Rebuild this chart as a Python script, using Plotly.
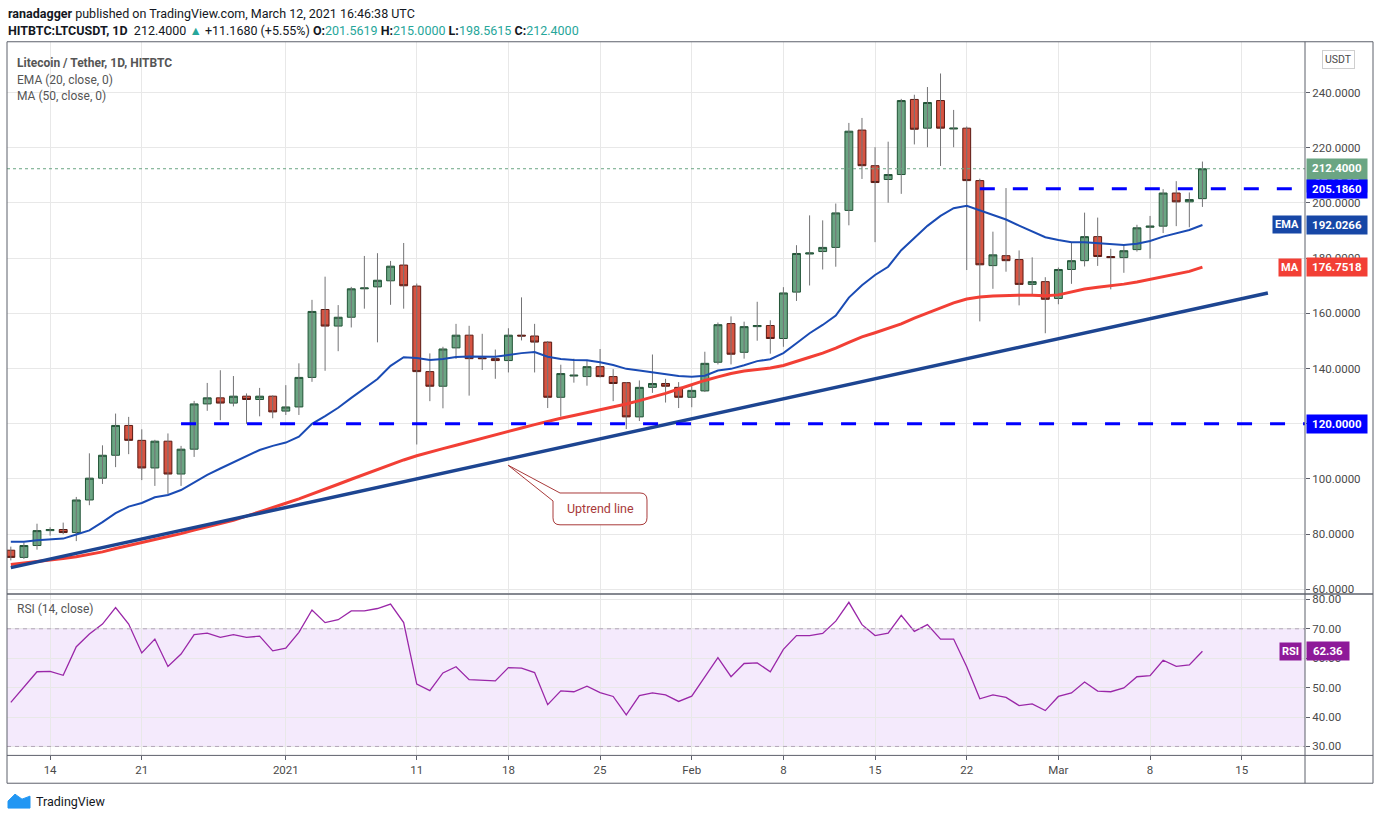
import pandas as pd
import plotly.graph_objects as go

# daily candles, LTC/USDT (HitBTC), Dec 11 2020 -> Mar 12 2021
dates = pd.date_range("2020-12-11", "2021-03-12", freq="D")

opens = [
    74.2, 71.6, 75.9, 81.3, 81.7, 80.6, 92.4, 100.3, 108.6, 119.4, 114.0, 104.0, 113.7, 101.8, 110.8, 127.2, 129.4, 127.5, 130.0, 128.8, 130.0,
    124.6, 126.1, 136.8, 161.4, 155.4, 158.6, 168.9, 169.6, 171.8, 177.5, 169.9, 138.9, 133.6, 147.5, 152.1, 143.9, 143.6, 142.9, 152.1, 151.8,
    149.6, 129.6, 137.3, 137.1, 140.7, 137.1, 134.9, 122.5, 133.2, 134.6, 133.2,
    129.6, 131.9, 142.3, 156.3, 145.9, 155.2, 155.6, 150.9, 167.7, 181.5, 182.4, 183.9, 197.3, 226.4, 213.5, 208.5, 210.3, 237.5, 227.1, 237.1,
    226.8, 227.1, 208.1, 177.3, 180.9, 179.5, 170.5, 171.5,
    165.4, 175.9, 179.1, 187.8, 180.6, 180.2, 183.1, 191.2, 191.6, 203.6, 200.4, 201.5619,
]
highs = [
    75.5, 77.0, 83.8, 82.5, 84.2, 93.5, 109.3, 112.2, 123.7, 122.5, 118.0, 114.2, 116.5, 112.0, 128.3, 134.8, 139.4, 137.3, 131.0, 133.0, 130.3,
    134.0, 141.9, 164.9, 173.3, 163.0, 169.6, 180.8, 181.8, 179.0, 185.5, 170.8, 145.5, 147.9, 156.2, 155.5, 152.6, 146.9, 154.6, 165.8, 156.2,
    150.0, 141.4, 143.6, 142.9, 147.1, 139.8, 135.1, 135.7, 145.1, 136.3, 135.1,
    134.3, 146.1, 156.7, 158.9, 157.0, 164.2, 157.5, 169.5, 184.7, 195.5, 193.7, 199.8, 229.0, 230.8, 220.2, 222.2, 237.7, 239.2, 242.0, 246.9,
    233.7, 227.7, 208.8, 189.6, 205.4, 182.8, 180.3, 173.1,
    176.6, 185.6, 196.5, 194.7, 183.4, 184.9, 192.1, 195.3, 205.0, 207.9, 203.8, 215.0,
]
lows = [
    70.5, 71.0, 74.4, 79.5, 80.0, 77.5, 90.5, 98.2, 104.3, 109.0, 99.6, 97.5, 94.6, 97.5, 108.0, 124.7, 121.3, 126.3, 120.0, 122.7, 122.0,
    123.2, 123.2, 135.2, 139.2, 146.3, 154.9, 161.7, 149.5, 163.1, 161.7, 112.5, 128.2, 125.6, 143.5, 130.2, 139.5, 136.3, 138.6, 150.2, 138.6,
    125.7, 122.6, 134.9, 133.8, 136.8, 128.2, 118.1, 121.0, 131.2, 127.7, 125.7,
    126.0, 131.5, 141.5, 141.5, 143.6, 150.1, 145.4, 147.9, 164.5, 170.1, 175.9, 176.9, 191.9, 208.7, 185.8, 200.1, 203.3, 221.2, 220.2, 213.4,
    220.2, 175.7, 157.1, 168.9, 175.1, 162.9, 166.9, 152.8,
    163.3, 170.7, 177.0, 177.2, 168.7, 174.7, 182.4, 179.8, 189.1, 191.6, 191.2, 198.5615,
]
closes = [
    71.6, 75.9, 81.3, 81.7, 80.6, 92.4, 100.3, 108.6, 119.4, 114.0, 104.0, 113.7, 101.8, 110.8, 127.2, 129.4, 127.5, 130.0, 128.8, 130.0, 124.3,
    126.1, 136.8, 160.7, 155.4, 158.6, 168.9, 169.2, 172.0, 177.1, 170.0, 138.9, 133.6, 147.1, 152.1, 143.6, 143.6, 142.9, 152.1, 151.8, 149.6,
    129.6, 138.2, 137.6, 140.7, 137.1, 134.6, 122.5, 133.2, 134.6, 133.6, 129.6,
    132.1, 141.9, 155.9, 145.2, 155.2, 155.6, 150.9, 167.4, 181.7, 181.9, 183.9, 196.4, 226.0, 213.5, 207.4, 210.3, 237.1, 226.7, 236.4, 227.1,
    227.1, 208.1, 177.6, 181.2, 179.1, 170.5, 171.5, 165.1,
    175.9, 179.1, 187.8, 180.6, 180.2, 182.7, 191.0, 191.6, 203.6, 200.4, 201.232, 212.4,
]

# indicator values
ema20 = [
    77.3, 77.3, 77.8, 78.1, 78.4, 79.9, 81.4, 84.4, 87.6, 90.0, 91.3, 93.4, 94.2, 96.0, 98.8, 101.5, 103.8, 106.0, 108.3, 110.5, 112.0,
    113.2, 115.3, 120.0, 122.8, 125.8, 129.4, 132.9, 136.2, 141.0, 144.1, 143.8, 143.1, 143.5, 144.2, 144.4, 144.3, 144.3, 144.9, 145.6, 146.0,
    144.3, 143.5, 143.1, 143.0, 142.3, 141.3, 139.9, 139.3, 138.7, 138.1, 137.3,
    137.0, 137.4, 139.3, 139.9, 141.2, 142.7, 143.4, 145.6, 149.2, 152.8, 155.8, 159.2, 165.7, 170.2, 173.9, 176.9, 182.9, 187.3, 191.7, 195.3,
    198.1, 199.0, 197.3, 195.6, 194.0, 191.8, 189.8, 187.6,
    186.6, 185.8, 185.8, 185.4, 185.0, 184.8, 185.2, 186.2, 187.8, 189.0, 190.2, 192.0266,
]
ma50 = [
    69.0, 69.5, 70.0, 70.6, 71.2, 71.8, 72.6, 73.6, 74.8, 76.0, 77.0, 78.1, 79.1, 80.2, 81.5, 82.8, 83.9, 85.0, 86.5, 88.0, 89.6,
    91.2, 92.8, 94.5, 96.3, 98.1, 99.9, 101.7, 103.5, 105.2, 106.9, 108.4, 109.8, 111.0, 112.2, 113.5, 114.8, 116.0, 117.3, 118.5, 119.7,
    120.9, 122.0, 123.0, 124.0, 125.0, 126.1, 127.2, 128.4, 129.7, 131.0, 132.6,
    134.2, 135.7, 137.0, 138.2, 139.1, 139.7, 140.2, 141.1, 142.7, 144.1, 145.6, 147.4, 149.5, 151.5, 153.0, 154.5, 156.2, 158.3, 160.1, 161.9,
    163.8, 165.2, 165.9, 166.3, 166.5, 166.6, 166.6, 166.4,
    166.7, 167.8, 168.8, 169.5, 170.0, 170.6, 171.4, 172.4, 173.3, 174.2, 175.2, 176.7518,
]
rsi14 = [
    45.0, 50.1, 55.4, 55.5, 54.2, 63.9, 68.2, 71.6, 77.2, 71.6, 61.8, 66.5, 57.2, 61.4, 68.0, 68.5, 67.1, 68.0, 67.1, 67.5, 62.5,
    63.4, 68.8, 76.4, 72.1, 73.1, 76.1, 76.1, 76.9, 78.4, 72.1, 51.2, 49.0, 55.0, 57.1, 52.7, 52.6, 52.3, 56.8, 56.6, 55.1,
    44.2, 48.9, 48.6, 50.5, 48.3, 47.0, 40.7, 47.3, 48.2, 47.5, 45.3,
    47.1, 53.5, 60.2, 53.7, 58.2, 58.4, 55.4, 63.0, 67.7, 67.7, 68.4, 72.6, 79.0, 71.4, 67.7, 68.5, 74.6, 69.1, 71.4, 66.5,
    66.5, 57.1, 46.2, 47.5, 46.7, 43.9, 44.5, 42.2,
    47.0, 48.2, 51.9, 48.8, 48.6, 49.9, 53.7, 54.1, 59.3, 57.2, 57.7, 62.36,
]

# drawn levels
trend_dates = ["2020-12-11", "2021-03-17"]
trend_vals = [67.9, 167.4]
support_level = 120.0
support_from = "2020-12-24"
resist_level = 205.186
resist_from = "2021-02-23"

tick_dates = ["2020-12-14", "2020-12-21", "2021-01-01", "2021-01-11", "2021-01-18", "2021-01-25", "2021-02-01",
              "2021-02-08", "2021-02-15", "2021-02-22", "2021-03-01", "2021-03-08", "2021-03-15"]
tick_text = ["14", "21", "2021", "11", "18", "25", "Feb", "8", "15", "22", "Mar", "8", "15"]

W, H = 1376, 823
def px(x):
    return x / W
def py(y):
    return 1 - y / H

x_start = pd.Timestamp("2020-12-10 17:00")
x_end = pd.Timestamp("2021-03-19 20:00")

GREEN = "#6ba583"
RED = "#d75442"
EMA_C = "#1a4bb4"
MA_C = "#f23f35"
LEVEL_C = "#0000ff"
RSI_C = "#9a27a8"
TEAL = "#26a69a"
TXT = "#4a4a4a"
FONT = "Roboto"

body_hi = [max(o, c) for o, c in zip(opens, closes)]
body_lo = [min(o, c) for o, c in zip(opens, closes)]
wick_x, wick_y = [], []
for d, lo, hi in zip(dates, lows, highs):
    wick_x += [d, d, None]
    wick_y += [lo, hi, None]

fig = go.Figure()

fig.add_trace(go.Scatter(x=wick_x, y=wick_y, mode="lines", line=dict(color="#737375", width=1),
                         hoverinfo="skip", showlegend=False))
fig.add_trace(go.Candlestick(x=dates, open=opens, high=body_hi, low=body_lo, close=closes,
                             increasing=dict(fillcolor=GREEN, line=dict(color="#225437", width=1)),
                             decreasing=dict(fillcolor=RED, line=dict(color="#5b1a13", width=1)),
                             showlegend=False))
fig.add_trace(go.Scatter(x=dates, y=ma50, mode="lines", line=dict(color=MA_C, width=3), showlegend=False))
fig.add_trace(go.Scatter(x=dates, y=ema20, mode="lines", line=dict(color=EMA_C, width=2), showlegend=False))
fig.add_trace(go.Scatter(x=trend_dates, y=trend_vals, mode="lines", line=dict(color="#1d4591", width=3.5),
                         showlegend=False))
fig.add_trace(go.Scatter(x=[support_from, x_end], y=[support_level, support_level], mode="lines",
                         line=dict(color=LEVEL_C, width=3, dash="15px,18px"), showlegend=False))
fig.add_trace(go.Scatter(x=[resist_from, x_end], y=[resist_level, resist_level], mode="lines",
                         line=dict(color=LEVEL_C, width=3, dash="15px,18px"), showlegend=False))

fig.add_trace(go.Scatter(x=dates, y=rsi14, mode="lines", line=dict(color=RSI_C, width=1.3),
                         xaxis="x2", yaxis="y2", showlegend=False))

shapes = [
    # rsi band 30-70
    dict(type="rect", xref="x2 domain", yref="y2", x0=0, x1=1, y0=30, y1=70,
         fillcolor="rgba(170,90,230,0.13)", line=dict(width=0), layer="below"),
    dict(type="line", xref="x2 domain", yref="y2", x0=0, x1=1, y0=70, y1=70,
         line=dict(color="#b3a6b8", width=1, dash="4px,4px")),
    dict(type="line", xref="x2 domain", yref="y2", x0=0, x1=1, y0=30, y1=30,
         line=dict(color="#b3a6b8", width=1, dash="4px,4px")),
    # last close dotted line
    dict(type="line", xref="x domain", yref="y", x0=0, x1=1, y0=closes[-1], y1=closes[-1],
         line=dict(color=GREEN, width=1, dash="dot")),
    # frame
    dict(type="rect", xref="paper", yref="paper", x0=px(7), x1=px(1373), y0=py(786), y1=py(40),
         line=dict(color="#5d606b", width=1)),
    dict(type="line", xref="paper", yref="paper", x0=px(1305), x1=px(1305), y0=py(786), y1=py(40),
         line=dict(color="#5d606b", width=1)),
    dict(type="line", xref="paper", yref="paper", x0=px(7), x1=px(1373), y0=py(595.5), y1=py(595.5),
         line=dict(color="#5d606b", width=1.5)),
    dict(type="line", xref="paper", yref="paper", x0=px(7), x1=px(1373), y0=py(758), y1=py(758),
         line=dict(color="#5d606b", width=1)),
]

# callout box "Uptrend line"
pts = [("M", 508, 466), ("L", 560, 494), ("L", 640, 494), ("Q", 647, 494, 647, 501), ("L", 647, 519),
       ("Q", 647, 526, 640, 526), ("L", 560, 526), ("Q", 553, 526, 553, 519), ("L", 553, 502)]
path = ""
for p in pts:
    cmd, coords = p[0], p[1:]
    xy = []
    for i in range(0, len(coords), 2):
        xy.append(f"{px(coords[i]):.5f},{py(coords[i + 1]):.5f}")
    path += cmd + " " + " ".join(xy) + " "
path += "Z"
shapes.append(dict(type="path", xref="paper", yref="paper", path=path, fillcolor="white",
                   line=dict(color="#a83a3a", width=1)))

# tradingview logo (rough)
logo = ("M {a},{b} L {c},{d} L {e},{f} L {g},{h} L {i},{j} L {k},{l} Z").format(
    a=px(8), b=py(811), c=px(8), d=py(804), e=px(15), f=py(797), g=px(22), h=py(802),
    i=px(30), j=py(799), k=px(30), l=py(811))
shapes.append(dict(type="path", xref="paper", yref="paper", path=logo, fillcolor="#2196f3",
                   line=dict(color="#2196f3", width=1)))

annotations = []

def ann(x, y, text, size=12, color=TXT, xanchor="left", **kw):
    annotations.append(dict(x=x, y=y, xref="paper", yref="paper", text=text, showarrow=False,
                            xanchor=xanchor, yanchor="middle",
                            font=dict(family=FONT, size=size, color=color), **kw))

chg = closes[-1] - closes[-2]
pct = chg / closes[-2] * 100
ann(px(6), py(12), "<b>ranadagger</b> published on TradingView.com, March 12, 2021 16:46:38 UTC",
    size=12.5, color="#131722")
ann(px(6), py(29),
    f"<b>HITBTC:LTCUSDT, 1D</b>  {closes[-1]:.4f} <span style='color:{TEAL}'>▲</span> +{chg:.4f} (+{pct:.2f}%) "
    f"<b>O:</b><span style='color:{TEAL}'>{opens[-1]:.4f}</span> <b>H:</b><span style='color:{TEAL}'>{highs[-1]:.4f}</span> "
    f"<b>L:</b><span style='color:{TEAL}'>{lows[-1]:.4f}</span> <b>C:</b><span style='color:{TEAL}'>{closes[-1]:.4f}</span>",
    size=12.5, color="#131722")
ann(px(15), py(61), "<b>Litecoin / Tether, 1D, HITBTC</b>", size=12, color="#555555")
ann(px(15), py(78), "EMA (20, close, 0)", size=12, color="#555555")
ann(px(15), py(95), "MA (50, close, 0)", size=12, color="#555555")
ann(px(15), py(611), "RSI (14, close)", size=12, color="#555555")
ann(px(600), py(510), "Uptrend line", size=12.5, color="#a83a3a", xanchor="center")
ann(px(34), py(804), "TradingView", size=12.5, color="#131722")
ann(px(1338), py(58), "USDT", size=10.5, color=TXT, xanchor="center", bordercolor="#cfcfcf",
    borderwidth=1, borderpad=2, bgcolor="white")

def price_tag(y, text, bg, yref="y", tag=None, yshift=0, width=56):
    annotations.append(dict(x=px(1306), y=y, xref="paper", yref=yref, text=f"<b>{text}</b>",
                            showarrow=False, xanchor="left", yanchor="middle", yshift=yshift, width=width,
                            align="center", bgcolor=bg, borderpad=2,
                            font=dict(family=FONT, size=11.5, color="white")))
    if tag:
        annotations.append(dict(x=px(1302), y=y, xref="paper", yref=yref, text=f"<b>{tag}</b>",
                                showarrow=False, xanchor="right", yanchor="middle", bgcolor=bg, borderpad=2,
                                font=dict(family=FONT, size=11, color="white")))

price_tag(closes[-1], f"{closes[-1]:.4f}<br><span style='font-weight:normal'>07:13:27</span>", GREEN, yshift=-7)
price_tag(resist_level, f"{resist_level:.4f}", LEVEL_C)
price_tag(ema20[-1], f"{ema20[-1]:.4f}", "#1747a6", tag="EMA")
price_tag(ma50[-1], f"{ma50[-1]:.4f}", MA_C, tag="MA")
price_tag(support_level, f"{support_level:.4f}", LEVEL_C)
price_tag(rsi14[-1], f"{rsi14[-1]:.2f}", "#8e1a99", yref="y2", tag="RSI", width=38)

grid = "#e8e8e8"
fig.update_layout(
    width=W, height=H, autosize=False,
    margin=dict(l=0, r=0, t=0, b=0),
    paper_bgcolor="white", plot_bgcolor="white",
    font=dict(family=FONT, size=12, color=TXT),
    boxgap=0.4, boxgroupgap=0,
    xaxis=dict(domain=[px(7), px(1305)], anchor="y", type="date", range=[x_start, x_end],
               tickvals=tick_dates, showticklabels=False, showgrid=True, gridcolor=grid,
               zeroline=False, rangeslider=dict(visible=False), showline=False),
    yaxis=dict(domain=[py(595), py(40)], anchor="x", side="right", range=[58.56, 258.4],
               tickvals=list(range(60, 241, 20)), tickformat=".4f", ticks="outside", ticklen=4,
               tickcolor="#5d606b", showgrid=True, gridcolor=grid, zeroline=False,
               tickfont=dict(size=11.5, color=TXT)),
    xaxis2=dict(domain=[px(7), px(1305)], anchor="y2", type="date", matches="x",
                tickvals=tick_dates, ticktext=tick_text, ticks="outside", ticklen=4, tickcolor="#5d606b",
                showgrid=True, gridcolor=grid, zeroline=False, tickfont=dict(size=11.5, color=TXT)),
    yaxis2=dict(domain=[py(758), py(596)], anchor="x2", side="right", range=[26.96, 81.7],
                tickvals=[30, 40, 50, 60, 70, 80], tickformat=".2f", ticks="outside", ticklen=4,
                tickcolor="#5d606b", showgrid=True, gridcolor=grid, zeroline=False,
                tickfont=dict(size=11.5, color=TXT)),
    shapes=shapes,
    annotations=annotations,
    showlegend=False,
    hovermode=False,
)

fig.write_html("out.html", config={"displayModeBar": False},
               post_script="document.body.style.margin='0';")
